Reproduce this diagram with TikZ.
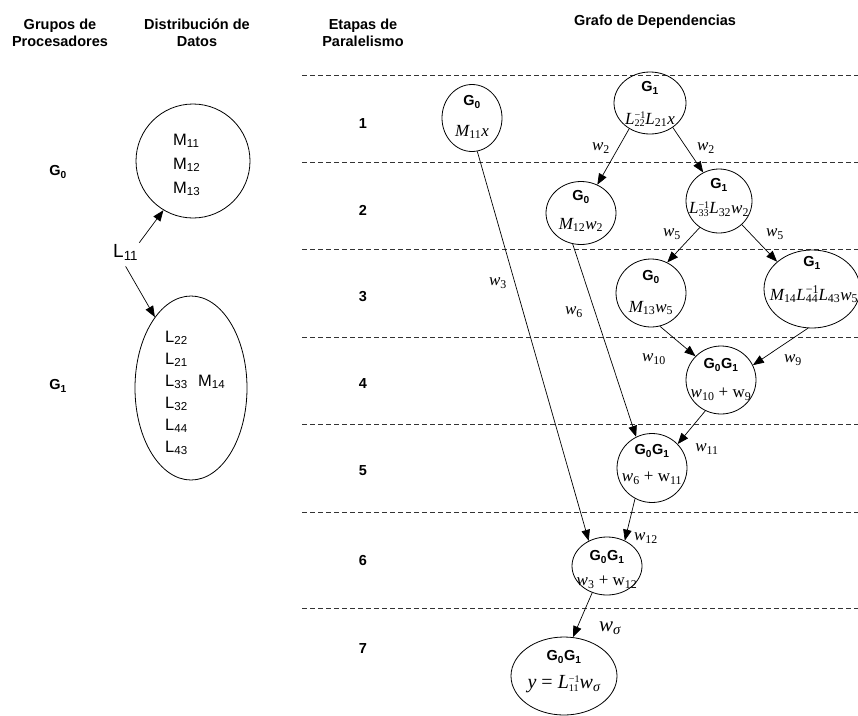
\documentclass[tikz,border=0pt]{standalone}
\usepackage{fontspec}
\setmainfont{Liberation Serif}
\setsansfont{Liberation Sans}
\usetikzlibrary{arrows.meta,shapes.geometric}

% upright subscript, and a stacked superscript/subscript pair set as one box
\newcommand\sbs[1]{\textsubscript{\upshape #1}}
\makeatletter
\newcommand\supsbs[2]{\raisebox{-0.15em}{\fontsize\sf@size{\sf@size}\selectfont\upshape
  \shortstack[l]{#1\\[-1.2pt]#2}}}
\makeatother

\begin{document}
\begin{tikzpicture}[x=1pt,y=-1pt,
  hdr/.style={font=\sffamily\bfseries\fontsize{14.5}{17}\selectfont, align=center, inner sep=0},
  grp/.style={font=\sffamily\bfseries\fontsize{14.5}{16}\selectfont, inner sep=0},
  stagenum/.style={font=\sffamily\bfseries\fontsize{14.5}{16}\selectfont, inner sep=0},
  dat/.style={font=\sffamily\fontsize{16.5}{18}\selectfont, inner sep=0},
  mth/.style={font=\fontsize{17}{19}\selectfont\itshape, inner sep=0},
  bigmth/.style={font=\fontsize{20}{22}\selectfont\itshape, inner sep=0},
  wl/.style={font=\fontsize{17}{19}\selectfont\itshape, inner sep=0},
  gnode/.style={draw, ellipse, inner sep=0, line width=0.8pt},
  dep/.style={draw, line width=0.7pt, -{Triangle[length=11pt,width=8.5pt]}},
  sepline/.style={dash pattern=on 5pt off 3pt, line width=0.9pt, black!80},
]
\useasboundingbox (0,0) rectangle (858,715);

% column headers
\node[hdr] (h1) at (60,33) {Grupos de\\Procesadores};
\node[hdr] (h2) at (197,33) {Distribución de\\Datos};
\node[hdr] (h3) at (363,33) {Etapas de\\Paralelismo};
\node[hdr] (h4) at (655,22) {Grafo de Dependencias};

% stage separators
\foreach \yy in {75,162,249,337,424,512,608}
  \draw[sepline] (302,\yy) -- (858,\yy);

% stage numbers
\node[stagenum] (s1) at (363,124) {1};
\node[stagenum] (s2) at (363,210) {2};
\node[stagenum] (s3) at (363,297) {3};
\node[stagenum] (s4) at (363,384) {4};
\node[stagenum] (s5) at (363,471) {5};
\node[stagenum] (s6) at (363,560) {6};
\node[stagenum] (s7) at (363,648) {7};

% processor groups
\node[grp] (g0) at (58,172) {G\sbs{0}};
\node[grp] (g1) at (58,386) {G\sbs{1}};

% data distribution
\node[draw, circle, minimum size=114pt, inner sep=0, line width=0.8pt] (c1) at (193,161) {};
\node[draw, ellipse, minimum width=112pt, minimum height=184pt, inner sep=0, line width=0.8pt] (e1) at (191,388) {};
\node[dat, anchor=base west] (m11) at (173,145) {M\sbs{11}};
\node[dat, anchor=base west] (m12) at (173,169) {M\sbs{12}};
\node[dat, anchor=base west] (m13) at (173,193) {M\sbs{13}};
\node[dat, anchor=base west] (l22) at (165,342) {L\sbs{22}};
\node[dat, anchor=base west] (l21) at (165,364) {L\sbs{21}};
\node[dat, anchor=base west] (l33) at (165,386) {L\sbs{33}};
\node[dat, anchor=base west] (l32) at (165,408) {L\sbs{32}};
\node[dat, anchor=base west] (l44) at (165,430) {L\sbs{44}};
\node[dat, anchor=base west] (l43) at (165,452) {L\sbs{43}};
\node[dat, anchor=base west] (m14) at (198,386) {M\sbs{14}};
\node[font=\sffamily\fontsize{19}{21}\selectfont, inner sep=1pt, anchor=base west] (l11) at (112,257) {L\sbs{11}};
\draw[dep] (l11.north east) -- (c1.-121);
\draw[dep] ([yshift=-5pt]l11.south) -- (e1.117);

% dependency graph nodes
\node[gnode, minimum width=60pt, minimum height=67pt] (n1) at (472,118) {};
\node[grp] at (472,102) {G\sbs{0}};
\node[mth] at (472,132) {M\sbs{11}x};

\node[gnode, minimum width=72pt, minimum height=62pt] (n2) at (650,103) {};
\node[grp] at (650,88) {G\sbs{1}};
\node[mth] at (650,119) {L\supsbs{−1}{22}L\sbs{21}x};

\node[gnode, minimum width=70pt, minimum height=63pt] (n3) at (581,213) {};
\node[grp] at (581,197) {G\sbs{0}};
\node[mth] at (581,225) {M\sbs{12}w\sbs{2}};

\node[gnode, minimum width=66pt, minimum height=64pt] (n4) at (719,201) {};
\node[grp] at (719,185) {G\sbs{1}};
\node[mth] at (719,209) {L\supsbs{−1}{33}L\sbs{32}w\sbs{2}};

\node[gnode, minimum width=70pt, minimum height=68pt] (n5) at (651,293) {};
\node[grp] at (651,277) {G\sbs{0}};
\node[mth] at (651,308) {M\sbs{13}w\sbs{5}};

\node[gnode, minimum width=96pt, minimum height=78pt] (n6) at (812,289) {};
\node[grp] at (812,263) {G\sbs{1}};
\node[mth] at (814,294) {M\sbs{14}L\supsbs{−1}{44}L\sbs{43}w\sbs{5}};

\node[gnode, minimum width=70pt, minimum height=68pt] (n7) at (721,380) {};
\node[grp] at (721,365) {G\sbs{0}G\sbs{1}};
\node[mth] at (721,394) {w\sbs{10} \upshape{+} w\sbs{9}};

\node[gnode, minimum width=70pt, minimum height=69pt] (n8) at (652,468) {};
\node[grp] at (652,451) {G\sbs{0}G\sbs{1}};
\node[mth] at (652,478) {w\sbs{6} \upshape{+} w\sbs{11}};

\node[gnode, minimum width=70pt, minimum height=58pt] (n9) at (607,566) {};
\node[grp] at (607,557) {G\sbs{0}G\sbs{1}};
\node[mth] at (607,582) {w\sbs{3} \upshape{+} w\sbs{12}};

\node[gnode, minimum width=106pt, minimum height=78pt] (n10) at (564,676) {};
\node[grp] at (564,657) {G\sbs{0}G\sbs{1}};
\node[bigmth] at (564,684) {y {\upshape=} L\supsbs{−1}{11}w\sbs{\itshape σ}};

% dependencies
\draw[dep] (n1.-81) -- (n9.126);
\draw[dep] (n2.-129) -- (n3.60);
\draw[dep] (n2.-47) -- (n4.119);
\draw[dep] (n3.-105) -- (n8.117);
\draw[dep] (n4.-126) -- (n5.62);
\draw[dep] (n4.-46) -- (n6.142);
\draw[dep] (n5.-75) -- (n7.137);
\draw[dep] (n6.-96) -- (n7.25);
\draw[dep] (n7.-117) -- (n8.43);
\draw[dep] (n8.-119) -- (n9.55);
\draw[dep] (n9.-119) -- (n10.77);

% dependency labels
\node[wl] (lw3) at (498,283) {w\sbs{3}};
\node[wl] (lw2a) at (601,148) {w\sbs{2}};
\node[wl] (lw2b) at (706,148) {w\sbs{2}};
\node[wl] (lw6) at (574,312) {w\sbs{6}};
\node[wl] (lw5a) at (672,234) {w\sbs{5}};
\node[wl] (lw5b) at (775,234) {w\sbs{5}};
\node[wl] (lw10) at (654,359) {w\sbs{10}};
\node[wl] (lw9) at (793,360) {w\sbs{9}};
\node[wl] (lw11) at (707,449) {w\sbs{11}};
\node[wl] (lw12) at (646,538) {w\sbs{12}};
\node[font=\fontsize{21}{23}\selectfont\itshape, inner sep=0] (lws) at (610,628) {w\sbs{\itshape σ}};
\end{tikzpicture}
\end{document}
